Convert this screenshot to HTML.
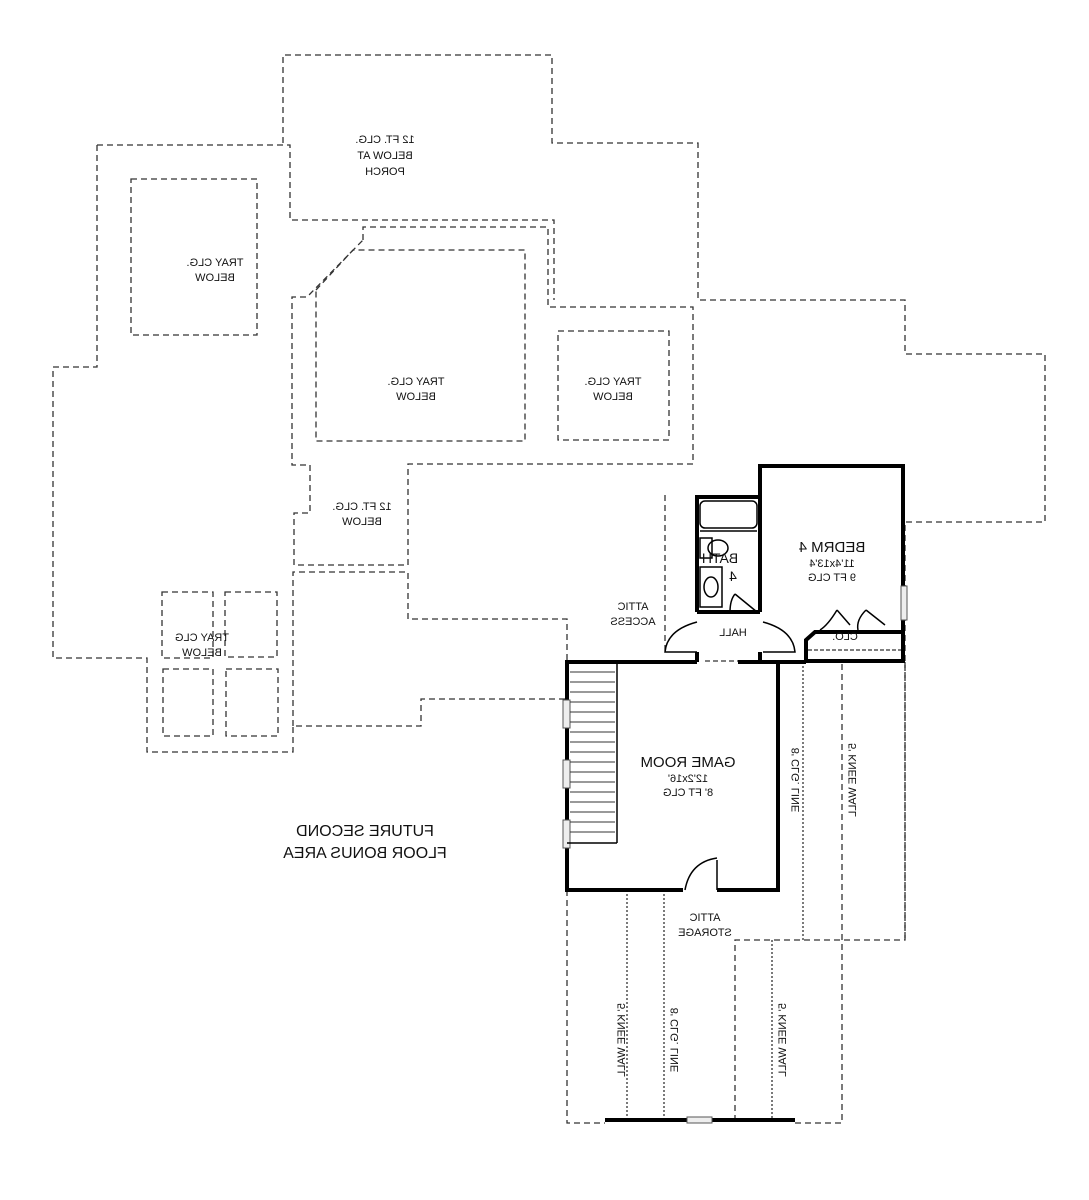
<!DOCTYPE html>
<html><head><meta charset="utf-8"><style>
html,body{margin:0;padding:0;background:#fff;}
svg{display:block;}
text{font-family:"Liberation Sans",sans-serif;fill:#111;}
</style></head><body>
<svg width="1089" height="1200" viewBox="0 0 1089 1200" xmlns="http://www.w3.org/2000/svg">
<g fill="none" stroke="#333" stroke-width="1.3" stroke-dasharray="6,4">
<polyline points="283,143 283,55 552,55 552,143 698,143 698,300 905,300 905,354 1045,354 1045,522 905,522 905,940 735,940 735,1120"/>
<polyline points="97,145 290,145 290,220 554,220 554,300"/>
<polyline points="97,145 97,367 53,367 53,658 147,658 147,752 293,752 293,726 421,726 421,699 567,699"/>
<polyline points="363,240 363,227 548,227 548,307 693,307 693,464 408,464 408,565 294,565 294,513 310,513 310,465 292,465 292,297 307,297 363,240"/>
<polyline points="293,726 293,572 408,572 408,619 567,619 567,662"/>
<rect x="131" y="179" width="126" height="156"/>
<polyline points="316,290 353,250 525,250 525,441 316,441 316,290"/>
<rect x="558" y="331" width="111" height="109"/>
<rect x="162" y="592" width="51" height="66"/>
<rect x="225" y="592" width="52" height="65"/>
<rect x="163" y="669" width="50" height="67"/>
<rect x="226" y="669" width="52" height="67"/>
<line x1="665" y1="495" x2="665" y2="655"/>
<polyline points="567,890 567,1123 605,1123"/>
<polyline points="795,1123 842,1123 842,662"/>
<line x1="905" y1="662" x2="905" y2="940"/>
</g>
<g fill="none" stroke="#333" stroke-width="1.3" stroke-dasharray="2,2">
<line x1="803" y1="662" x2="803" y2="940"/>
<line x1="627" y1="890" x2="627" y2="1120"/>
<line x1="664" y1="890" x2="664" y2="1120"/>
<line x1="772" y1="940" x2="772" y2="1120"/>
<line x1="705" y1="661" x2="738" y2="661" stroke-dasharray="5,3"/>
<line x1="808" y1="650" x2="902" y2="650" stroke-dasharray="4,2"/>
</g>
<g fill="none" stroke="#000" stroke-width="4">
<polyline points="760,612 760,466 903,466 903,661 806,661 806,640 815,632 903,632"/>
<polyline points="697,612 697,497 760,497"/>
<line x1="697" y1="612" x2="760" y2="612"/>
<line x1="697" y1="652" x2="697" y2="662"/>
<line x1="760" y1="652" x2="760" y2="662"/>
<polyline points="697,662 567,662 567,890 683,890"/>
<polyline points="717,890 778,890 778,662 738,662"/>
<line x1="760" y1="662" x2="806" y2="662"/>
<line x1="605" y1="1120" x2="795" y2="1120"/>
</g>
<g fill="#eee" stroke="#555" stroke-width="1">
<rect x="687" y="1117" width="25" height="6"/>
<rect x="563" y="700" width="7" height="28"/>
<rect x="563" y="760" width="7" height="28"/>
<rect x="563" y="820" width="7" height="28"/>
<rect x="901" y="586" width="6" height="34"/>
</g>
<g fill="none" stroke="#000" stroke-width="1.5">
<rect x="700" y="501" width="57" height="27" rx="5"/>
<line x1="700" y1="531" x2="757" y2="531"/>
<rect x="700" y="538" width="12" height="20"/>
<ellipse cx="718" cy="548" rx="10" ry="8"/>
<rect x="700" y="567" width="22" height="40"/>
<ellipse cx="711" cy="587" rx="7" ry="10"/>
<path d="M735,594 L757,612 M735,594 Q730,600 730,612"/>
<path d="M697,622 Q667,630 665,652 L697,652"/>
<path d="M763,622 Q793,630 795,652 L763,652"/>
<path d="M837,610 L850,625 M837,610 Q828,625 820,630"/>
<path d="M866,610 L885,625 M866,610 Q856,620 858,630"/>
<path d="M717,860 L717,890 M717,858 Q690,862 685,890"/>
<line x1="617" y1="662" x2="617" y2="843"/>
<line x1="567" y1="843" x2="617" y2="843"/>
</g>
<g stroke="#333" stroke-width="1">
<line x1="570" y1="672" x2="615" y2="672"/><line x1="570" y1="682" x2="615" y2="682"/><line x1="570" y1="692" x2="615" y2="692"/><line x1="570" y1="702" x2="615" y2="702"/><line x1="570" y1="712" x2="615" y2="712"/><line x1="570" y1="722" x2="615" y2="722"/><line x1="570" y1="732" x2="615" y2="732"/><line x1="570" y1="742" x2="615" y2="742"/><line x1="570" y1="752" x2="615" y2="752"/><line x1="570" y1="762" x2="615" y2="762"/><line x1="570" y1="772" x2="615" y2="772"/><line x1="570" y1="782" x2="615" y2="782"/><line x1="570" y1="792" x2="615" y2="792"/><line x1="570" y1="802" x2="615" y2="802"/><line x1="570" y1="812" x2="615" y2="812"/><line x1="570" y1="822" x2="615" y2="822"/><line x1="570" y1="832" x2="615" y2="832"/>
</g>
<g text-anchor="middle" font-size="11">
<text transform="translate(385,143) scale(-1,1)">12 FT. CLG.</text>
<text transform="translate(385,159) scale(-1,1)">BELOW AT</text>
<text transform="translate(385,175) scale(-1,1)">PORCH</text>
<text transform="translate(215,266) scale(-1,1)">TRAY CLG.</text>
<text transform="translate(215,281) scale(-1,1)">BELOW</text>
<text transform="translate(416,385) scale(-1,1)">TRAY CLG.</text>
<text transform="translate(416,400) scale(-1,1)">BELOW</text>
<text transform="translate(613,385) scale(-1,1)">TRAY CLG.</text>
<text transform="translate(613,400) scale(-1,1)">BELOW</text>
<text transform="translate(362,510) scale(-1,1)">12 FT. CLG.</text>
<text transform="translate(362,525) scale(-1,1)">BELOW</text>
<text transform="translate(202,641) scale(-1,1)">TRAY CLG</text>
<text transform="translate(202,656) scale(-1,1)">BELOW</text>
<text transform="translate(633,610) scale(-1,1)">ATTIC</text>
<text transform="translate(633,625) scale(-1,1)">ACCESS</text>
<text transform="translate(733,636) scale(-1,1)">HALL</text>
<text transform="translate(845,640) scale(-1,1)">CLO.</text>
<text transform="translate(705,921) scale(-1,1)">ATTIC</text>
<text transform="translate(705,936) scale(-1,1)">STORAGE</text>
<text transform="translate(832,567) scale(-1,1)">11'4x13'4</text>
<text transform="translate(832,581) scale(-1,1)">9 FT CLG</text>
<text transform="translate(688,782) scale(-1,1)">12'2x16'</text>
<text transform="translate(688,796) scale(-1,1)">8' FT CLG</text>
<text font-size="15" transform="translate(832,552) scale(-1,1)">BEDRM 4</text>
<text font-size="14" transform="translate(720,563) scale(-1,1)">BATH</text>
<text font-size="14" transform="translate(733,581) scale(-1,1)">4</text>
<text font-size="15" transform="translate(688,767) scale(-1,1)">GAME ROOM</text>
<text font-size="16" transform="translate(365,836) scale(-1,1)">FUTURE SECOND</text>
<text font-size="16" transform="translate(365,858) scale(-1,1)">FLOOR BONUS AREA</text>
<text transform="translate(799,780) rotate(90) scale(1,-1)">8' CLG. LINE</text>
<text transform="translate(856,780) rotate(90) scale(1,-1)">5' KNEE WALL</text>
<text transform="translate(625,1040) rotate(90) scale(1,-1)">5' KNEE WALL</text>
<text transform="translate(678,1040) rotate(90) scale(1,-1)">8' CLG. LINE</text>
<text transform="translate(786,1040) rotate(90) scale(1,-1)">5' KNEE WALL</text>
</g>
</svg>
</body></html>
